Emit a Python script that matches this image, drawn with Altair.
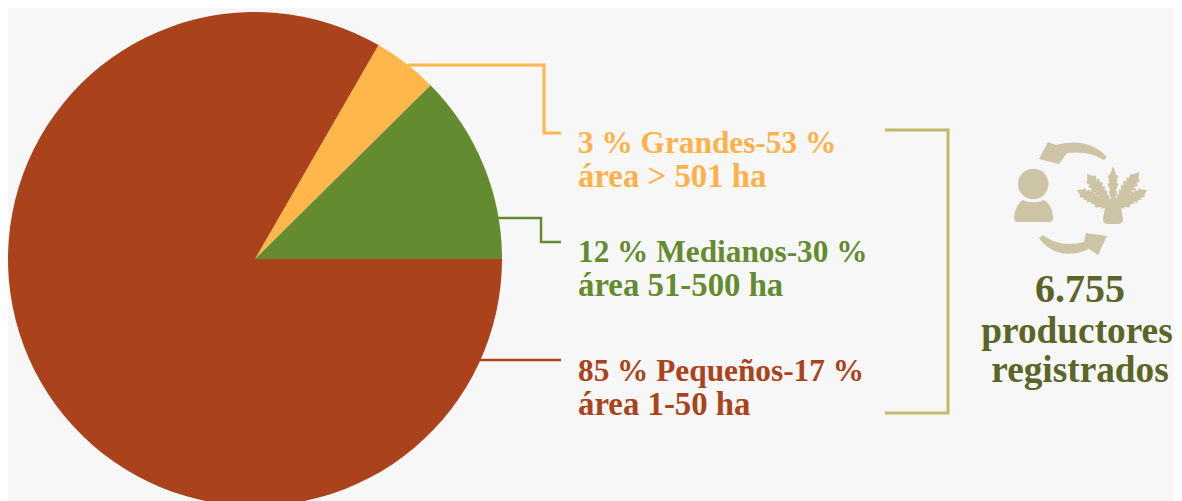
import altair as alt
import pandas as pd

# Pie
seg_names = ["Grandes", "Medianos", "Pequeños"]
seg_values = [4.25, 12.42, 83.33]
seg_colors = ["#FFB64A", "#648B2F", "#AA431B"]

# Leader lines (reference pixel frame)
leader_ids = ["g"] * 4 + ["m"] * 4 + ["p"] * 2 + ["b"] * 4
leader_x = [408, 544, 544, 561, 497, 541, 541, 561, 480, 561, 885, 948, 948, 885]
leader_y = [65, 65, 133, 133, 218, 218, 242, 242, 360, 360, 130, 130, 413, 413]
leader_colors = {"g": "#FFB64A", "m": "#648B2F", "p": "#AA431B", "b": "#C4B86B"}
leader_widths = {"g": 3, "m": 2.5, "p": 2.5, "b": 3}

# Text
label_text = ["3 % Grandes-53 %", "área > 501 ha", "12 % Medianos-30 %", "área 51-500 ha",
              "85 % Pequeños-17 %", "área 1-50 ha"]
label_y = [153, 187, 262, 296, 381, 415]
label_size = [31.3, 32.8, 31.3, 32.8, 31.3, 32.8]
label_color = ["#FDB14A", "#FDB14A", "#648B2F", "#648B2F", "#AA431B", "#AA431B"]
side_text = ["6.755", "productores", "registrados"]
side_x = [1080, 1077, 1080]
side_y = [302, 343, 382]
side_size = [40, 37.3, 37.3]

FONT = "Liberation Serif"
BG = "#F7F7F7"
ICON = "#CDC4A5"
ICON_X, ICON_Y = 1081, 196

xs = alt.X("x:Q", scale=alt.Scale(domain=[8, 1174], range=[0, 1166], nice=False, zero=False), axis=None)
ys = alt.Y("y:Q", scale=alt.Scale(domain=[8, 501], range=[0, 493], nice=False, zero=False), axis=None)


def frond(bx, by, tx, ty, w, teeth=7):
    dx, dy = tx - bx, ty - by
    nx, ny = -dy, dx
    ln = (nx * nx + ny * ny) ** 0.5
    nx, ny = nx / ln, ny / ln
    left, right = [], []
    for i in range(teeth):
        t = 0.12 + 0.76 * i / teeth
        o = w * (1 - abs(t - 0.55) * 1.1)
        t_out = t + 0.08
        t_in = t + 0.1
        i_o = o * 0.62
        left += [(bx + dx * t_out + nx * o, by + dy * t_out + ny * o), (bx + dx * t_in + nx * i_o, by + dy * t_in + ny * i_o)]
        right += [(bx + dx * t_out - nx * o, by + dy * t_out - ny * o), (bx + dx * t_in - nx * i_o, by + dy * t_in - ny * i_o)]
    pts = [(bx, by)] + left + [(tx, ty)] + right[::-1]
    return "M" + " L".join(f"{x - ICON_X:.1f},{y - ICON_Y:.1f}" for x, y in pts) + " Z "


o = lambda x, y: f"{x - ICON_X:.1f},{y - ICON_Y:.1f}"
icon_paths = [
    # head
    f"M{o(1018, 184)} A15.3,15.3 0 1 1 {o(1048.6, 184)} A15.3,15.3 0 1 1 {o(1018, 184)} Z",
    # shoulders
    f"M{o(1014, 218)} C{o(1015, 209)} {o(1018, 203)} {o(1023, 200)} C{o(1028, 203)} {o(1039, 203)} {o(1044, 200)} C{o(1049, 203)} {o(1053, 209)} {o(1053, 218)} Q{o(1053, 222)} {o(1049, 222)} L{o(1018, 222)} Q{o(1014, 222)} {o(1014, 218)} Z",
    # top arrow
    f"M{o(1107, 157)} L{o(1104, 160)} C{o(1094, 154)} {o(1083, 151)} {o(1067, 153)} L{o(1059, 164)} L{o(1039, 159)} L{o(1048, 142)} L{o(1056, 145)} C{o(1078, 139)} {o(1095, 144)} {o(1107, 157)} Z",
    # bottom arrow
    f"M{o(1039, 238)} L{o(1043, 235)} C{o(1055, 244)} {o(1068, 246)} {o(1084, 242)} L{o(1086, 233)} L{o(1107, 236)} L{o(1098, 255)} L{o(1089, 249)} C{o(1070, 258)} {o(1050, 254)} {o(1039, 238)} Z",
    # pot
    f"M{o(1106, 204)} L{o(1120, 204)} L{o(1122, 213)} L{o(1123, 219)} Q{o(1123, 224)} {o(1118, 224)} L{o(1108, 224)} Q{o(1103, 224)} {o(1103, 219)} L{o(1104, 213)} Z",
    frond(1113, 208, 1113, 166, 6, 4),
    frond(1113, 208, 1087, 174, 8),
    frond(1113, 208, 1139, 172, 8),
    frond(1112, 208, 1077, 190, 7),
    frond(1114, 208, 1147, 190, 7),
    frond(1112, 208, 1090, 201, 5, 3),
    frond(1114, 208, 1134, 201, 5, 3),
]

pie_df = pd.DataFrame({"name": seg_names, "value": seg_values, "ord": [0, 1, 2], "color": seg_colors})
pie = alt.Chart(pie_df).mark_arc(radius=247).encode(
    theta=alt.Theta("value:Q", stack=True, scale=alt.Scale(domain=[0, 100], range=[0.5236, 0.5236 + 6.28319])),
    order=alt.Order("ord:Q"),
    color=alt.Color("color:N", scale=None),
    x=alt.value(247),
    y=alt.value(251),
)

line_df = pd.DataFrame({"id": leader_ids, "x": leader_x, "y": leader_y})
line_df["i"] = range(len(line_df))
line_df["color"] = line_df["id"].map(leader_colors)
line_df["w"] = line_df["id"].map(leader_widths)
lines = alt.Chart(line_df).mark_line(strokeCap="butt", strokeJoin="miter").encode(
    x=xs, y=ys, detail="id:N", order="i:Q",
    color=alt.Color("color:N", scale=None),
    strokeWidth=alt.StrokeWidth("w:Q", scale=None),
)

lab_df = pd.DataFrame({"t": label_text, "y": label_y, "c": label_color, "s": label_size, "x": [578] * 6})
labels = alt.Chart(lab_df).mark_text(font=FONT, fontWeight="bold", align="left", baseline="alphabetic").encode(
    x=xs, y=ys, text="t:N", color=alt.Color("c:N", scale=None), size=alt.Size("s:Q", scale=None))

side_df = pd.DataFrame({"t": side_text, "y": side_y, "s": side_size, "x": side_x})
side = alt.Chart(side_df).mark_text(font=FONT, fontWeight="bold", align="center", baseline="alphabetic", color="#5B6527").encode(
    x=xs, y=ys, text="t:N", size=alt.Size("s:Q", scale=None))

icon_layers = [
    alt.Chart(pd.DataFrame({"x": [ICON_X], "y": [ICON_Y]})).mark_point(
        shape=p, size=4, filled=True, color=ICON, opacity=1, strokeWidth=0).encode(x=xs, y=ys)
    for p in icon_paths
]

chart = alt.layer(pie, lines, labels, side, *icon_layers).properties(
    width=1166, height=493, padding=0, background=BG,
    autosize=alt.AutoSizeParams(type="none"),
).configure_view(stroke=None)

chart.save("out.html", embed_options={"renderer": "svg", "actions": False})
